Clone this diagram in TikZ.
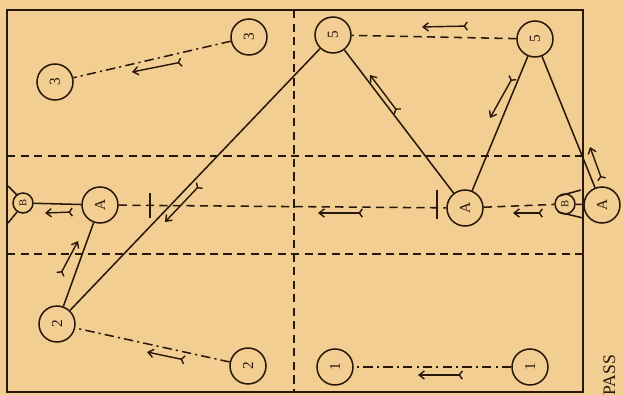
\documentclass[tikz,border=0pt]{standalone}
\usepackage{fontspec}
\setmainfont{Liberation Serif}
\usetikzlibrary{arrows.meta,calc}
\definecolor{paper}{RGB}{243,206,146}
\definecolor{ink}{RGB}{40,24,12}
\begin{document}
\begin{tikzpicture}[x=0.85pt,y=-0.85pt,line width=1.3pt,color=ink,
  pl/.style={circle,draw,line width=1.3pt,minimum size=30.6pt,inner sep=0pt,rotate=90,font=\fontsize{13}{13}\selectfont},
  bk/.style={circle,draw,line width=1.3pt,minimum size=17pt,inner sep=0pt,rotate=90,font=\fontsize{9}{9}\selectfont},
  dsh/.style={dash pattern=on 7pt off 4.5pt},
  dd/.style={dash pattern=on 8pt off 3.5pt on 1.8pt off 3.5pt},
  mv/.style={line width=1.2pt,{Straight Barb[reversed,length=2.5pt,width=7pt]}-{Straight Barb[length=4.5pt,width=7pt]}},
  tick/.style={line width=1.3pt}]
\fill[paper] (0,0) rectangle (623,395);
\useasboundingbox (0,0) rectangle (623,395);
% court
\draw[line width=1.6pt] (7,10) rectangle (583,392);
\draw[line width=2.4pt] (7,10) -- (583,10);
\draw[dsh] (294,10) -- (294,392);
\draw[dsh] (7,156) -- (583,156);
\draw[dsh] (7,254) -- (583,254);
% players
\node[pl] (t3l) at (55,82) {3};
\node[pl] (t3r) at (249,37) {3};
\node[pl] (f5l) at (333,35) {5};
\node[pl] (f5r) at (535,39) {5};
\node[pl] (al) at (100,205) {A};
\node[pl] (am) at (465,208) {A};
\node[pl] (ar) at (602,205) {A};
\node[bk] (bl) at (23,203) {B};
\node[bk] (br) at (565,204) {B};
\node[pl] (t2l) at (57,324) {2};
\node[pl] (t2r) at (248,366) {2};
\node[pl] (o1l) at (335,367) {1};
\node[pl] (o1r) at (530,367) {1};
% backboards
\coordinate (wl1) at (8,186); \coordinate (wl2) at (8,223);
\coordinate (wr1) at (581,190); \coordinate (wr2) at (583,218);
\draw (wl1) -- (17,195);
\draw (wl2) -- (17,212);
\draw (wr1) -- (559,196);
\draw (wr2) -- (558,212);
% connectors
\draw[dd] (t3r) -- (t3l);
\draw[dsh] (f5r) -- (f5l);
\draw (f5l) -- (t2l);
\draw (f5l) -- (am);
\draw (am) -- (f5r);
\draw (f5r) -- (ar);
\draw (bl) -- (al);
\draw (br) -- (ar);
\draw (al) -- (t2l);
\draw[dsh] (al) -- (am);
\draw[dsh] (am) -- (br);
\draw[dd] (t2r) -- (t2l);
\draw[dd] (o1r) -- (o1l);
% screen ticks
\coordinate (k1a) at (150,193); \coordinate (k1b) at (150,218);
\coordinate (k2a) at (437,190); \coordinate (k2b) at (437,219);
\draw[tick] (k1a) -- (k1b);
\draw[tick] (k2a) -- (k2b);
% movement arrows
\coordinate (m1a) at (182,62);  \coordinate (m1b) at (132,72);
\coordinate (m2a) at (468,26);  \coordinate (m2b) at (422,27);
\coordinate (m3a) at (200,185); \coordinate (m3b) at (165,222);
\coordinate (m4a) at (398,112); \coordinate (m4b) at (370,75);
\coordinate (m5a) at (513,77);  \coordinate (m5b) at (490,118);
\coordinate (m6a) at (602,180); \coordinate (m6b) at (590,147);
\coordinate (m7a) at (73,212);  \coordinate (m7b) at (45,213);
\coordinate (m8a) at (363,213); \coordinate (m8b) at (318,213);
\coordinate (m9a) at (543,213); \coordinate (m9b) at (513,213);
\coordinate (m10a) at (60,275); \coordinate (m10b) at (78,241);
\coordinate (m11a) at (185,360);\coordinate (m11b) at (147,352);
\coordinate (m12a) at (463,375);\coordinate (m12b) at (418,375);
\foreach \i in {1,...,12} {\draw[mv] (m\i a) -- (m\i b);}
% caption fragment
\node[rotate=90,anchor=base west,inner sep=0pt,font=\fontsize{15}{15}\selectfont] (pass) at (615,396) {PASS};
\end{tikzpicture}
\end{document}
